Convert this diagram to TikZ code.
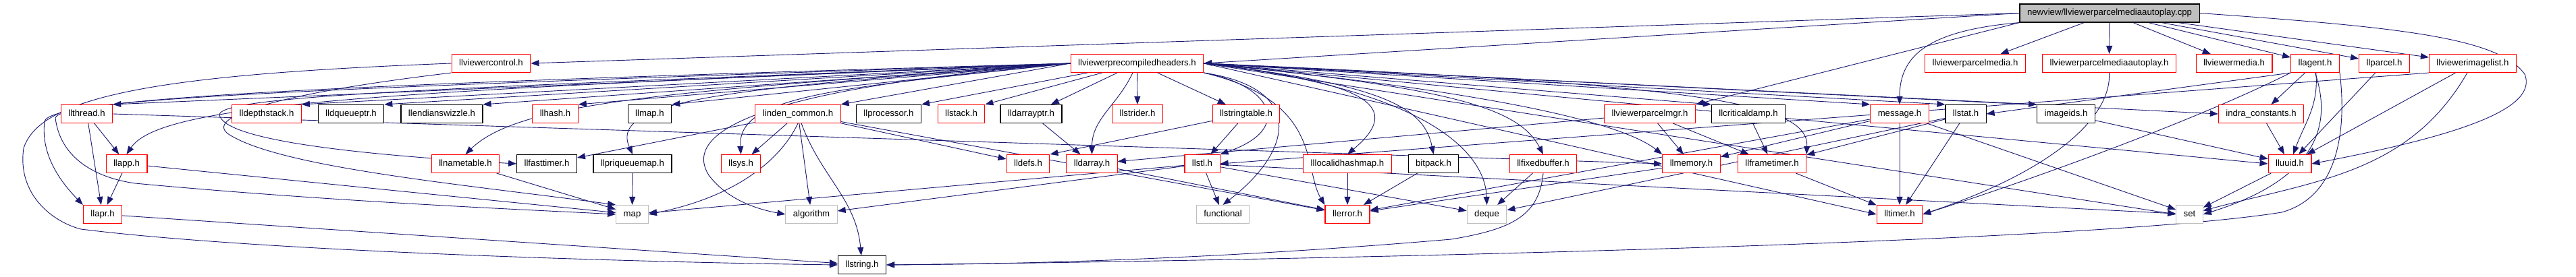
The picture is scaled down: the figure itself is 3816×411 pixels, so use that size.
\documentclass[tikz,border=0pt]{standalone}
\usepackage{fontspec}
\setmainfont{Liberation Sans}
\usetikzlibrary{arrows.meta}
\definecolor{navy}{HTML}{191970}
\definecolor{lgray}{HTML}{BFBFBF}
\pgfdeclarelayer{back}
\pgfsetlayers{back,main}

\begin{document}
\begin{tikzpicture}[x=1pt,y=-1pt,
  box/.style={draw,fill=white,line width=1.1pt,minimum height=27pt,inner xsep=11pt,inner ysep=0pt,
    text height=10pt,text depth=3pt,font=\fontsize{13.2}{16}\selectfont},
  redbox/.style={box,draw=red},
  blkbox/.style={box,draw=black},
  sysbox/.style={box,draw=lgray},
  cppbox/.style={box,draw=black,fill=lgray},
  inc/.style={draw=navy,line width=0.9pt,-{Triangle[length=12pt,width=9pt]}}]
\useasboundingbox (0,0) rectangle (3816,411);

\node[cppbox] (cpp) at (3125,19.5) {newview/llviewerparcelmediaautoplay.cpp};

\node[redbox] (viewercontrol) at (727.5,94) {llviewercontrol.h};
\node[redbox] (pch) at (1684.5,94) {llviewerprecompiledheaders.h};
\node[redbox] (parcelmedia) at (2926,94) {llviewerparcelmedia.h};
\node[redbox] (autoplay) at (3124.5,94) {llviewerparcelmediaautoplay.h};
\node[redbox] (viewermedia) at (3309.5,94) {llviewermedia.h};
\node[redbox] (agent) at (3429.5,94) {llagent.h};
\node[redbox] (parcel) at (3532,94) {llparcel.h};
\node[redbox] (imagelist) at (3663,94) {llviewerimagelist.h};

\node[redbox] (thread) at (128.5,169) {llthread.h};
\node[redbox] (depthstack) at (395,169) {lldepthstack.h};
\node[blkbox] (dqueueptr) at (520,169) {lldqueueptr.h};
\node[blkbox] (endianswizzle) at (654.5,169) {llendianswizzle.h};
\node[redbox] (hash) at (822.5,169) {llhash.h};
\node[blkbox] (llmap) at (962.5,169) {llmap.h};
\node[redbox] (linden) at (1182,169) {linden\_common.h};
\node[blkbox] (processor) at (1316.5,169) {llprocessor.h};
\node[redbox] (stack) at (1424,169) {llstack.h};
\node[blkbox] (darrayptr) at (1527.5,169) {lldarrayptr.h};
\node[redbox] (strider) at (1685,169) {llstrider.h};
\node[redbox] (stringtable) at (1846,169) {llstringtable.h};
\node[redbox] (parcelmgr) at (2444,169) {llviewerparcelmgr.h};
\node[blkbox] (criticaldamp) at (2590,169) {llcriticaldamp.h};
\node[redbox] (message) at (2814,169) {message.h};
\node[blkbox] (stat) at (2912,169) {llstat.h};
\node[blkbox] (imageids) at (3060.5,169) {imageids.h};
\node[redbox] (indraconst) at (3349.5,169) {indra\_constants.h};

\node[redbox] (app) at (187.5,243) {llapp.h};
\node[redbox] (nametable) at (689.5,243) {llnametable.h};
\node[blkbox] (fasttimer) at (810,243) {llfasttimer.h};
\node[blkbox] (priqueuemap) at (937,243) {llpriqueuemap.h};
\node[redbox] (sys) at (1097.5,243) {llsys.h};
\node[redbox] (defs) at (1523,243) {lldefs.h};
\node[redbox] (darray) at (1617.5,243) {lldarray.h};
\node[redbox] (stl) at (1781,243) {llstl.h};
\node[redbox] (localidhashmap) at (1996,243) {lllocalidhashmap.h};
\node[blkbox] (bitpack) at (2123.5,243) {bitpack.h};
\node[redbox] (fixedbuffer) at (2286,243) {llfixedbuffer.h};
\node[redbox] (memory) at (2505.5,243) {llmemory.h};
\node[redbox] (frametimer) at (2625,243) {llframetimer.h};
\node[redbox] (uuid) at (3392,243) {lluuid.h};

\node[redbox] (apr) at (152,318) {llapr.h};
\node[sysbox] (stdmap) at (936.5,318) {map};
\node[sysbox] (stdalgorithm) at (1202,318) {algorithm};
\node[sysbox] (stdfunctional) at (1811.5,318) {functional};
\node[redbox] (error) at (1996,318) {llerror.h};
\node[sysbox] (stddeque) at (2202.5,318) {deque};
\node[redbox] (timer) at (2814,318) {lltimer.h};
\node[sysbox] (stdset) at (3243.5,318) {set};

\node[blkbox] (string) at (1277,393) {llstring.h};

\begin{pgfonlayer}{back}
\draw[inc] (cpp.west) -- (pch.east);
\draw[inc] (cpp.west) -- (viewercontrol.east);
\draw[inc] (cpp) -- (parcelmedia);
\draw[inc] (cpp) -- (autoplay);
\draw[inc] (cpp) -- (viewermedia);
\draw[inc] (cpp) -- (agent);
\draw[inc] (cpp) -- (parcel);
\draw[inc] (cpp) -- (imagelist);
\draw[inc] (cpp.south west) .. controls (2860,45) and (2814,80) .. (message.north);
\draw[inc] (cpp.south west) -- (parcelmgr.north east);
\draw[inc] (cpp.east) .. controls (3550,40) and (3700,55) .. (3740,110) .. controls (3760,160) and (3650,200) .. (uuid.east);

\draw[inc] (pch.west) -- (thread.north east);
\draw[inc] (pch.west) -- (depthstack.north east);
\draw[inc] (pch.west) -- (dqueueptr.north east);
\draw[inc] (pch.west) -- (endianswizzle.north east);
\draw[inc] (pch.west) -- (hash.north east);
\draw[inc] (pch.west) -- (llmap.north east);
\draw[inc] (pch.west) -- (linden.north east);
\draw[inc] (pch) -- (processor.north east);
\draw[inc] (pch) -- (stack.north east);
\draw[inc] (pch) -- (darrayptr);
\draw[inc] (pch) -- (strider);
\draw[inc] (pch) -- (stringtable);
\draw[inc] (pch.west) .. controls (600,135) and (240,150) .. (app.north);
\draw[inc] (pch.west) .. controls (500,125) and (75,145) .. (66,180) .. controls (60,230) and (90,270) .. (apr.north west);
\draw[inc] (pch.west) .. controls (500,130) and (90,145) .. (82,175) .. controls (90,240) and (150,265) .. (200,272) .. controls (500,300) and (800,312) .. (stdmap.west);
\draw[inc] (pch.west) .. controls (700,130) and (330,140) .. (325,170) .. controls (330,205) and (500,228) .. (fasttimer.west);
\draw[inc] (pch.west) .. controls (1000,135) and (770,150) .. (nametable.north);
\draw[inc] (pch.west) .. controls (1100,130) and (900,145) .. (priqueuemap.north);
\draw[inc] (pch.west) .. controls (1250,130) and (1092,140) .. (sys.north);
\draw[inc] (pch.west) .. controls (1200,125) and (1000,180) .. (1050,260) .. controls (1080,300) and (1130,312) .. (stdalgorithm.west);
\draw[inc] (pch) to[out=-115,in=90] (darray);
\draw[inc] (pch.south east) .. controls (1880,125) and (1920,190) .. (stl.north east);
\draw[inc] (pch.south east) .. controls (1930,130) and (1920,220) .. (stdfunctional.north);
\draw[inc] (pch.south east) .. controls (1960,150) and (1930,250) .. (error.north west);
\draw[inc] (pch.east) .. controls (2000,120) and (2090,150) .. (localidhashmap.north);
\draw[inc] (pch.east) .. controls (2050,125) and (2110,160) .. (bitpack.north);
\draw[inc] (pch.east) .. controls (2100,130) and (2200,220) .. (stddeque.north);
\draw[inc] (pch.east) .. controls (2150,130) and (2250,160) .. (fixedbuffer.north);
\draw[inc] (pch.east) .. controls (2200,135) and (2400,180) .. (memory.north west);
\draw[inc] (pch.east) .. controls (2500,125) and (2680,150) .. (frametimer.north east);
\draw[inc] (pch.east) -- (criticaldamp.north west);
\draw[inc] (pch.east) -- (message.north west);
\draw[inc] (pch.east) -- (stat.north west);
\draw[inc] (pch.east) -- (imageids.north west);
\draw[inc] (pch.east) -- (indraconst.west);
\draw[inc] (pch.east) -- (uuid.west);
\draw[inc] (pch.east) -- (stdset.west);
\draw[inc] (pch.east) -- (timer.west);

\draw[inc] (viewercontrol.west) .. controls (250,110) and (60,140) .. (35,220) .. controls (25,290) and (80,330) .. (120,340) .. controls (400,375) and (1000,390) .. (string.west);
\draw[inc] (viewercontrol.south west) .. controls (400,140) and (300,175) .. (340,200) .. controls (420,250) and (700,275) .. (stdmap.north west);
\draw[inc] (thread) -- (app);
\draw[inc] (thread) -- (apr);
\draw[inc] (thread.east) -- (memory.west);
\draw[inc] (app) -- (apr);
\draw[inc] (app) -- (stdmap);
\draw[inc] (apr) -- (string);
\draw[inc] (nametable) -- (stdmap);
\draw[inc] (priqueuemap) -- (stdmap);
\draw[inc] (linden) -- (fasttimer);
\draw[inc] (linden) -- (sys);
\draw[inc] (linden.south) .. controls (1160,230) and (1100,290) .. (stdmap.east);
\draw[inc] (linden) -- (stdalgorithm);
\draw[inc] (linden) to[out=-70,in=95] (string);
\draw[inc] (linden) -- (defs);
\draw[inc] (linden) -- (error);
\draw[inc] (darrayptr) -- (darray);
\draw[inc] (stringtable) -- (defs.north east);
\draw[inc] (stringtable) -- (stl);
\draw[inc] (stl) -- (stdfunctional);
\draw[inc] (stl) -- (stdmap);
\draw[inc] (stl) -- (stdalgorithm);
\draw[inc] (stl) -- (stddeque);
\draw[inc] (stl) -- (stdset);
\draw[inc] (darray) -- (error);
\draw[inc] (localidhashmap) -- (error);
\draw[inc] (bitpack) -- (error);
\draw[inc] (memory) -- (error);
\draw[inc] (fixedbuffer) -- (stddeque);
\draw[inc] (fixedbuffer.south) .. controls (2280,320) and (2240,340) .. (2150,355) .. controls (1800,385) and (1500,392) .. (string.east);
\draw[inc] (parcelmgr) -- (memory);
\draw[inc] (parcelmgr) -- (frametimer);
\draw[inc] (parcelmgr) -- (darray);
\draw[inc] (criticaldamp) -- (frametimer);
\draw[inc] (frametimer) -- (timer);
\draw[inc] (message) -- (timer);
\draw[inc] (message) -- (memory);
\draw[inc] (message) -- (stdset);
\draw[inc] (message) -- (error);
\draw[inc] (stat) -- (timer);
\draw[inc] (stat) -- (frametimer);
\draw[inc] (stat) -- (stddeque);
\draw[inc] (imageids) -- (uuid);
\draw[inc] (autoplay.south) .. controls (3128,170) and (3050,250) .. (timer.east);
\draw[inc] (agent) -- (indraconst);
\draw[inc] (agent) to[out=-85,in=70] (uuid);
\draw[inc] (agent.south) .. controls (3450,170) and (3450,260) .. (stdset.east);
\draw[inc] (agent.south east) .. controls (3475,180) and (3470,290) .. (3380,315) .. controls (3100,360) and (2000,385) .. (string.east);
\draw[inc] (agent.south west) -- (stat.east);
\draw[inc] (agent.south west) .. controls (3250,180) and (3000,270) .. (timer.east);
\draw[inc] (parcel) -- (uuid);
\draw[inc] (imagelist) -- (uuid);
\draw[inc] (imagelist) to[out=-120,in=15] (stdset);
\draw[inc] (imagelist.south west) -- (stl.east);
\draw[inc] (indraconst) -- (uuid);
\draw[inc] (uuid) -- (stdset);
\end{pgfonlayer}
\end{tikzpicture}
\end{document}
